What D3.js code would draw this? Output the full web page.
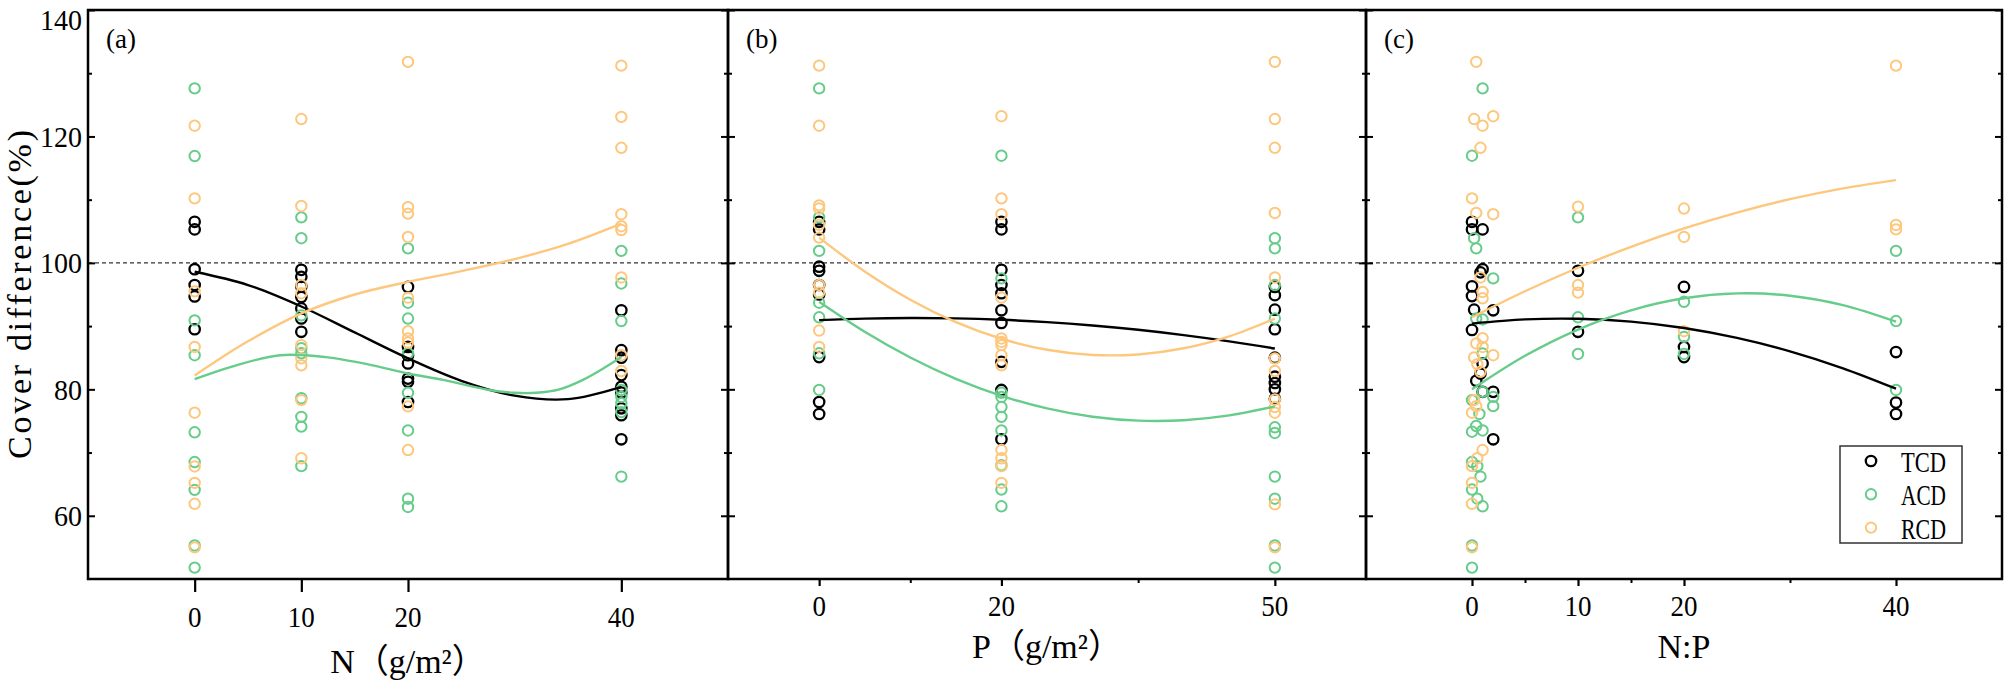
<!DOCTYPE html>
<html><head><meta charset="utf-8">
<script src="https://cdn.jsdelivr.net/npm/d3@7"></script>
<style>body{margin:0;background:#fff}svg{display:block}</style>
</head><body>
<svg id="chart" width="2007" height="680"></svg>
<script>
// ---------- data ----------
const seriesNames = ["TCD", "ACD", "RCD"];
const seriesColors = ["#000000", "#66cc8a", "#fdc77d"];
const yMajorTicks = [60, 80, 100, 120, 140];
const yMinorTicks = [70, 90, 110, 130];
const refLine = 100;

// panel (a): N (g/m2)
const aXTicks = [0, 10, 20, 40];
const aTCD = [[0,106.5],[0,105.3],[0,99.0],[0,96.5],[0,94.7],[0,89.5],
  [10,98.9],[10,97.8],[10,96.3],[10,94.6],[10,92.8],[10,91.2],[10,89.1],
  [20,96.2],[20,86.7],[20,85.4],[20,84.1],[20,81.7],[20,81.2],[20,78.0],
  [40,92.5],[40,86.2],[40,85.0],[40,82.25],[40,80.4],[40,79.5],[40,77.0],[40,75.9],[40,72.1]];
const aACD = [[0,127.6],[0,116.9],[0,90.9],[0,85.4],[0,73.2],[0,68.5],[0,64.1],[0,55.3],[0,51.8],
  [10,107.2],[10,103.9],[10,91.7],[10,86.5],[10,85.7],[10,78.6],[10,75.65],[10,74.1],[10,67.85],
  [20,102.3],[20,93.7],[20,91.2],[20,85.7],[20,79.45],[20,73.5],[20,62.7],[20,61.4],
  [40,101.9],[40,96.75],[40,90.8],[40,79.9],[40,78.8],[40,77.8],[40,76.4],[40,66.2]];
const aRCD = [[0,121.7],[0,110.2],[0,95.5],[0,86.7],[0,76.3],[0,67.8],[0,65.2],[0,61.9],[0,55.0],
  [10,122.75],[10,109.0],[10,96.5],[10,95.2],[10,87.0],[10,84.9],[10,83.8],[10,78.3],[10,69.1],
  [20,131.8],[20,108.8],[20,107.8],[20,104.1],[20,94.5],[20,89.2],[20,88.05],[20,87.4],[20,77.3],[20,70.4],
  [40,131.2],[40,123.1],[40,118.2],[40,107.7],[40,105.8],[40,105.2],[40,97.7],[40,85.4],[40,82.9]];
const aTCDfit = [[0,98.6],[5,96.5],[10,93.1],[15,89.0],[20,84.9],[25,81.35],[30,79.0],[35,78.45],[40,80.4]];
const aACDfit = [[0,81.6],[3.5,83.6],[8,85.4],[12.3,85.1],[16.7,83.8],[20,82.5],[23.3,81.5],[27.6,79.9],[30,79.45],[32,79.45],[34.2,80.0],[36.4,81.5],[38.6,83.6],[40,85.1]];
const aRCDfit = [[0,82.2],[2.5,85.0],[5,87.6],[10,92.0],[15,95.0],[20,97.0],[25,98.7],[30,100.6],[35,103.0],[40,106.2]];

// panel (b): P (g/m2)
const bXTicks = [0, 20, 50];
const bXMinor = [10, 35];
const bTCD = [[0,106.5],[0,105.3],[0,99.4],[0,98.75],[0,96.5],[0,95.0],[0,85.1],[0,78.0],[0,76.1],
  [20,106.5],[20,105.3],[20,98.9],[20,96.5],[20,95.2],[20,92.5],[20,90.5],[20,84.35],[20,79.9],[20,72.1],
  [50,96.2],[50,94.9],[50,92.6],[50,89.5],[50,85.0],[50,82.0],[50,81.0],[50,80.0],[50,78.5]];
const bACD = [[0,127.6],[0,107.2],[0,101.9],[0,93.7],[0,91.4],[0,85.7],[0,79.9],
  [20,116.95],[20,97.55],[20,79.45],[20,78.8],[20,77.2],[20,75.65],[20,73.5],[20,68.0],[20,64.15],[20,61.5],
  [50,103.9],[50,102.3],[50,96.5],[50,91.2],[50,74.0],[50,73.1],[50,66.2],[50,62.7],[50,55.3],[50,51.8]];
const bRCD = [[0,131.2],[0,121.7],[0,109.1],[0,108.6],[0,106.0],[0,104.0],[0,96.5],[0,95.3],[0,89.3],[0,86.7],
  [20,123.2],[20,110.2],[20,107.7],[20,94.5],[20,88.05],[20,87.5],[20,87.0],[20,85.4],[20,83.8],[20,70.4],[20,69.1],[20,67.85],[20,65.2],
  [50,131.8],[50,122.75],[50,118.2],[50,107.9],[50,97.7],[50,84.9],[50,82.9],[50,78.4],[50,77.2],[50,76.3],[50,61.8],[50,55.0]];
const bTCDfit = [[0,90.95],[5,91.19],[10,91.28],[15,91.22],[20,91.0],[25,90.63],[30,90.1],[35,89.42],[40,88.58],[45,87.59],[50,86.45]];
const bACDfit = [[0,93.85],[5,89.1],[10,85.04],[15,81.66],[20,78.98],[25,76.98],[30,75.67],[35,75.05],[40,75.12],[45,75.88],[50,77.3]];
const bRCDfit = [[0,104.0],[5,98.64],[10,94.18],[15,90.64],[20,88.0],[25,86.26],[30,85.44],[35,85.52],[40,86.49],[45,88.39],[50,91.2]];

// panel (c): N:P
const cXTicks = [0, 10, 20, 40];
const cXMinor = [5, 15, 30];
const cTCD = [[0,106.5],[0,105.3],[1,105.3],[1,99.0],[0.8,98.5],[0,96.3],[0,94.75],[0.2,92.6],[2,92.5],[0,89.4],
  [1,84.1],[0.8,82.5],[0.4,81.35],[1,79.6],[2,79.6],[2,72.1],
  [10,98.75],[10,89.1],[20,96.2],[20,86.7],[20,85.1],[40,85.9],[40,77.9],[40,76.1]];
const cACD = [[1,127.6],[0,116.95],[0.2,103.9],[0.4,102.3],[2,97.55],[0.4,91.2],[1,91.05],[1,85.67],[1,79.6],[2,78.8],
  [0,78.3],[2,77.34],[0.7,76.1],[0.4,74.2],[0,73.3],[1,73.5],[0,68.5],[0.5,67.85],[0.8,66.2],[0,64.15],[0.5,62.7],[1,61.5],
  [0,55.3],[0,51.8],[10,107.2],[10,91.4],[10,85.6],[20,93.85],[20,88.3],[20,85.6],[40,101.9],[40,90.8],[40,79.9]];
const cRCD = [[0.4,131.8],[0.2,122.75],[2,123.2],[1,121.7],[0.8,118.2],[0,110.2],[0.4,107.9],[2,107.7],[0.8,97.7],[1,95.4],
  [1,94.4],[1,88.1],[0.4,87.26],[1,86.7],[0.2,85.04],[2,85.4],[0.5,83.99],[0.8,82.77],[0.2,78.3],[0.4,77.34],[0,76.3],
  [1,70.4],[0.5,69.1],[0,67.85],[0,65.2],[0,61.9],[0,55.0],[10,108.9],[10,96.5],[10,95.3],[20,108.6],[20,104.1],[20,89.2],
  [40,131.2],[40,106.0],[40,105.3]];
const cTCDfit = [[0,90.4],[5,91.06],[10,91.16],[15,90.71],[20,89.7],[25,88.13],[30,86.01],[35,83.33],[40,80.1]];
const cACDfit = [[0,80.0],[5,85.3],[10,89.46],[15,92.5],[20,94.4],[25,95.17],[30,94.81],[35,93.32],[40,90.7]];
const cRCDfit = [[0,91.4],[5,95.51],[10,99.23],[15,102.54],[20,105.45],[25,107.96],[30,110.08],[35,111.79],[40,113.1]];

// ---------- drawing ----------
const svg = d3.select("#chart");
const FONT = "'Liberation Serif','Times New Roman','Noto Sans CJK SC',serif";
const plotTop = 10, plotBottom = 579;
const y = d3.scaleLinear().domain([50, 140]).range([plotBottom, plotTop]);

const panels = [
  {label:"(a)", left:88, right:728, domain:[-10,50], ticks:aXTicks, minor:[], tickLen:13, labelY:627,
   title:"N（g/m²）", titleY:673, pts:[aTCD,aACD,aRCD], fits:[aTCDfit,aACDfit,aRCDfit]},
  {label:"(b)", left:728, right:1366, domain:[-10,60], ticks:bXTicks, minor:bXMinor, tickLen:7, labelY:616,
   title:"P（g/m²）", titleY:658, pts:[bTCD,bACD,bRCD], fits:[bTCDfit,bACDfit,bRCDfit]},
  {label:"(c)", left:1366, right:2002, domain:[-10,50], ticks:cXTicks, minor:cXMinor, tickLen:7, labelY:616,
   title:"N:P", titleY:658, pts:[cTCD,cACD,cRCD], fits:[cTCDfit,cACDfit,cRCDfit]}
];

// reference dashed line
svg.append("line")
  .attr("x1", panels[0].left).attr("x2", panels[2].right)
  .attr("y1", y(refLine)).attr("y2", y(refLine))
  .attr("stroke", "#333").attr("stroke-width", 1.3).attr("stroke-dasharray", "4,3");

panels.forEach((p) => {
  const x = d3.scaleLinear().domain(p.domain).range([p.left, p.right]);
  const g = svg.append("g");

  // points
  p.pts.forEach((arr, si) => {
    g.append("g").selectAll("circle").data(arr).join("circle")
      .attr("cx", d => x(d[0])).attr("cy", d => y(d[1])).attr("r", 5.2)
      .attr("fill", "none").attr("stroke", seriesColors[si])
      .attr("stroke-width", si === 0 ? 2.3 : 2);
  });

  // fit curves
  const line = d3.line().x(d => x(d[0])).y(d => y(d[1])).curve(d3.curveCatmullRom.alpha(0.5));
  p.fits.forEach((arr, si) => {
    g.append("path").attr("d", line(arr)).attr("fill", "none")
      .attr("stroke", seriesColors[si]).attr("stroke-width", 2.4);
  });

  // x axis
  const xa = g.append("g").attr("transform", `translate(0,${plotBottom})`)
    .call(d3.axisBottom(x).tickValues(p.ticks).tickSize(p.tickLen).tickFormat(""));
  xa.select(".domain").remove();
  xa.selectAll(".tick line").attr("stroke", "#000").attr("stroke-width", 2.2);
  if (p.minor.length) {
    const xm = g.append("g").attr("transform", `translate(0,${plotBottom})`)
      .call(d3.axisBottom(x).tickValues(p.minor).tickSize(4).tickFormat(""));
    xm.select(".domain").remove();
    xm.selectAll(".tick line").attr("stroke", "#000").attr("stroke-width", 2);
  }
  g.append("g").selectAll("text").data(p.ticks).join("text")
    .attr("x", d => x(d)).attr("y", p.labelY).attr("text-anchor", "middle")
    .attr("font-family", FONT).attr("font-size", 30).attr("fill", "#000")
    .attr("textLength", d => String(d).length * 13.5).attr("lengthAdjust", "spacingAndGlyphs")
    .text(d => d);

  // y axes (inward ticks both sides)
  [[p.left, d3.axisRight], [p.right, d3.axisLeft]].forEach(([xx, ax]) => {
    const ym = g.append("g").attr("transform", `translate(${xx},0)`)
      .call(ax(y).tickValues(yMajorTicks).tickSize(7).tickFormat(""));
    ym.select(".domain").remove();
    ym.selectAll(".tick line").attr("stroke", "#000").attr("stroke-width", 2);
    const yn = g.append("g").attr("transform", `translate(${xx},0)`)
      .call(ax(y).tickValues(yMinorTicks).tickSize(4).tickFormat(""));
    yn.select(".domain").remove();
    yn.selectAll(".tick line").attr("stroke", "#000").attr("stroke-width", 2);
  });

  // frame
  g.append("rect").attr("x", p.left).attr("y", plotTop)
    .attr("width", p.right - p.left).attr("height", plotBottom - plotTop)
    .attr("fill", "none").attr("stroke", "#000").attr("stroke-width", 2.5);

  // panel label
  g.append("text").attr("x", p.left + 18).attr("y", 48)
    .attr("font-family", FONT).attr("font-size", 27).text(p.label);

  // x title
  g.append("text").attr("x", (p.left + p.right) / 2).attr("y", p.titleY)
    .attr("text-anchor", "middle").attr("font-family", FONT).attr("font-size", 34)
    .text(p.title);
});

// y tick labels (panel a)
svg.append("g").selectAll("text").data(yMajorTicks).join("text")
  .attr("x", 82).attr("y", d => Math.max(y(d), 19)).attr("dy", "0.35em").attr("text-anchor", "end")
  .attr("font-family", FONT).attr("font-size", 30)
  .attr("textLength", d => String(d).length * 14).attr("lengthAdjust", "spacingAndGlyphs")
  .text(d => d);

// y title
svg.append("text").attr("transform", `translate(31,${(plotTop + plotBottom) / 2}) rotate(-90)`)
  .attr("text-anchor", "middle").attr("font-family", FONT).attr("font-size", 34)
  .attr("textLength", 329).attr("lengthAdjust", "spacing")
  .text("Cover difference(%)");

// legend
const lg = svg.append("g");
lg.append("rect").attr("x", 1840).attr("y", 446).attr("width", 122).attr("height", 97)
  .attr("fill", "#fff").attr("stroke", "#333").attr("stroke-width", 1.5);
seriesNames.forEach((n, i) => {
  const cy = 461 + i * 33.3;
  lg.append("circle").attr("cx", 1871).attr("cy", cy).attr("r", 5.2).attr("fill", "none")
    .attr("stroke", seriesColors[i]).attr("stroke-width", i === 0 ? 2.3 : 2);
  lg.append("text").attr("x", 1901).attr("y", cy + 11).attr("font-family", FONT)
    .attr("font-size", 30).attr("textLength", 45).attr("lengthAdjust", "spacingAndGlyphs").text(n);
});
</script>
</body></html>
